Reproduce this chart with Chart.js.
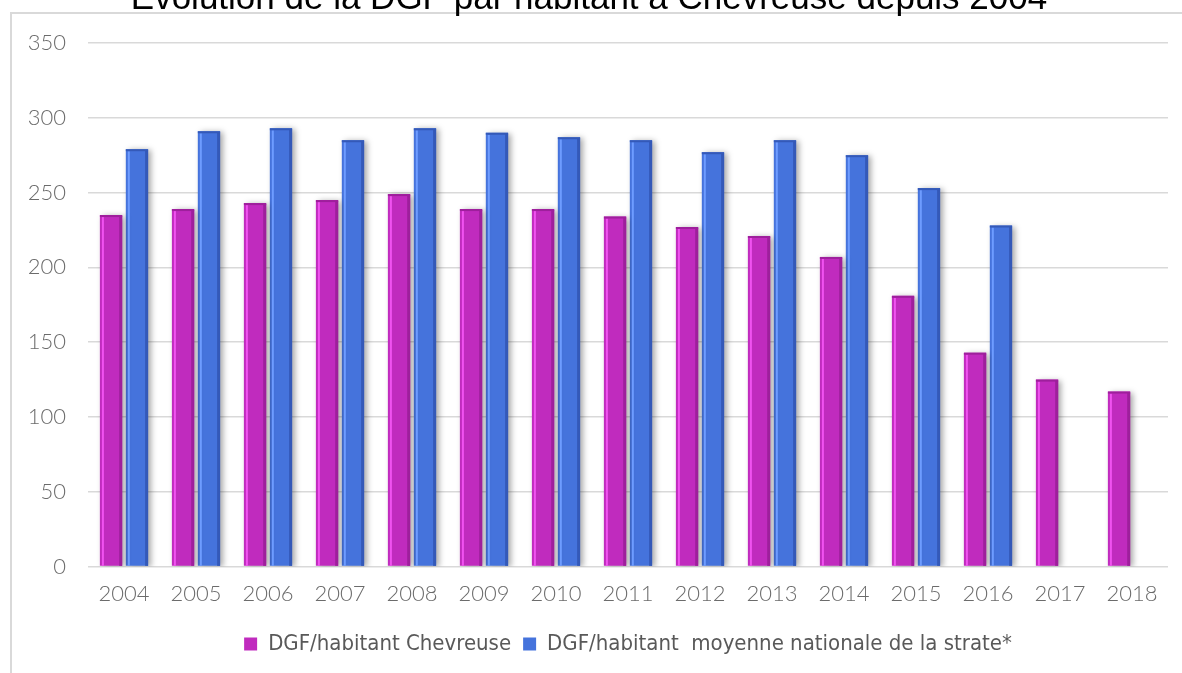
<!DOCTYPE html>
<html>
<head>
<meta charset="utf-8">
<script src="https://cdn.jsdelivr.net/npm/chart.js@4"></script>
<style>
  html, body { margin: 0; padding: 0; background: #fff; overflow: hidden; }
  #wrap { position: absolute; left: 0; top: -30px; width: 1182px; height: 703px; }
  #frame { position: absolute; left: 10px; top: 12px; width: 1200px; height: 700px;
           border-left: 2px solid #d9d9d9; border-top: 2px solid #d9d9d9; }
</style>
</head>
<body>
<div id="frame"></div>
<div id="wrap"><canvas id="dgfChart" width="1182" height="703"></canvas></div>
<script>
const years = ["2004", "2005", "2006", "2007", "2008", "2009", "2010", "2011", "2012", "2013", "2014", "2015", "2016", "2017", "2018"];
const chevreuse = [235, 239, 243, 245, 249, 239, 239, 234, 227, 221, 207, 181, 143, 125, 117];
const moyenneStrate = [279, 291, 293, 285, 293, 290, 287, 285, 277, 285, 275, 253, 228, null, null];
const yTicks = [0, 50, 100, 150, 200, 250, 300, 350];

const tickFont = { family: "Lato, 'Open Sans', sans-serif", size: 22, weight: "300" };

// shadow + light/dark edge on each bar, like the 3D look of the original
const barStyle = {
    id: "barStyle",
    beforeDatasetsDraw(chart) {
        const ctx = chart.ctx;
        ctx.save();
        ctx.shadowColor = "rgba(0,0,0,0.35)";
        ctx.shadowBlur = 6;
        ctx.shadowOffsetX = 3;
        ctx.shadowOffsetY = 1;
    },
    afterDatasetsDraw(chart) {
        const ctx = chart.ctx;
        ctx.restore();
        chart.data.datasets.forEach((ds, i) => {
            const meta = chart.getDatasetMeta(i);
            meta.data.forEach(bar => {
                if (bar.y == null || isNaN(bar.y) || bar.base - bar.y < 1) return;
                const x0 = bar.x - bar.width / 2;
                const x1 = bar.x + bar.width / 2;
                ctx.fillStyle = ds.lightEdge;
                ctx.fillRect(x0 + 2, bar.y + 2, 2, bar.base - bar.y - 2);
                ctx.fillStyle = ds.darkEdge;
                ctx.fillRect(x1 - 3, bar.y + 1, 3, bar.base - bar.y - 1);
                ctx.fillRect(x0, bar.y, bar.width, 2);
            });
        });
    }
};

new Chart(document.getElementById("dgfChart"), {
    type: "bar",
    data: {
        labels: years,
        datasets: [{
            label: "DGF/habitant Chevreuse",
            data: chevreuse,
            backgroundColor: "#c02bbe",
            lightEdge: "#f052f0",
            darkEdge: "#9e1f9c",
            borderWidth: 0
        }, {
            label: "DGF/habitant  moyenne nationale de la strate*",
            data: moyenneStrate,
            backgroundColor: "#4573dc",
            lightEdge: "#6e9cff",
            darkEdge: "#3459b8",
            borderWidth: 0
        }]
    },
    options: {
        responsive: false,
        animation: false,
        categoryPercentage: 0.72,
        barPercentage: 0.86,
        layout: { padding: { left: 10, right: 14, top: 0, bottom: 8 } },
        plugins: {
            title: {
                display: true,
                text: "Évolution de la DGF par habitant à Chevreuse depuis 2004",
                color: "#000",
                font: { family: "'Liberation Sans', Arial, sans-serif", size: 35, weight: "normal" },
                padding: { top: 8, bottom: 23 }
            },
            legend: {
                position: "bottom",
                fullSize: false,
                labels: {
                    boxWidth: 13,
                    boxHeight: 13,
                    padding: 12,
                    color: "#595959",
                    font: { family: "'Liberation Sans Narrow', 'DejaVu Sans Condensed', sans-serif", size: 22 }
                }
            },
            tooltip: { enabled: false }
        },
        scales: {
            x: {
                grid: { display: false, drawTicks: false, tickLength: 0 },
                border: { display: false },
                ticks: { color: "#6b6b6b", font: tickFont, padding: 14, maxRotation: 0 }
            },
            y: {
                min: 0,
                max: 350,
                afterBuildTicks(axis) { axis.ticks = yTicks.map(v => ({ value: v })); },
                afterFit(axis) { axis.width = 78; },
                grid: { color: "#d9d9d9", lineWidth: 1.5, drawTicks: false },
                border: { display: false },
                ticks: { color: "#6b6b6b", font: tickFont, padding: 22 }
            }
        }
    },
    plugins: [barStyle]
});
</script>
</body>
</html>
